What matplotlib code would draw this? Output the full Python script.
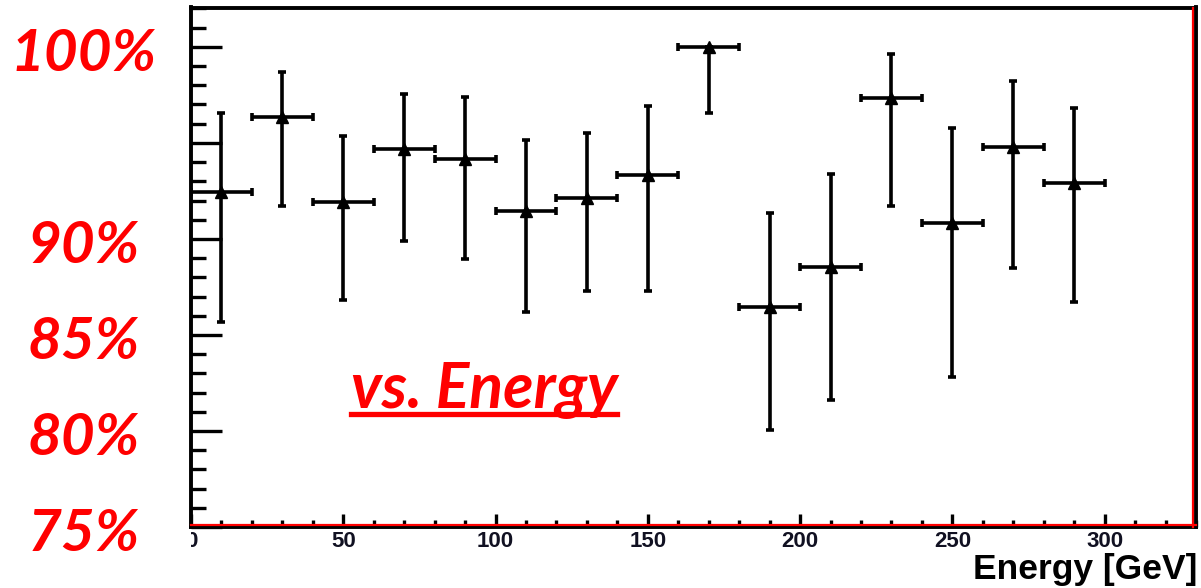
import matplotlib
matplotlib.use("Agg")
import matplotlib.pyplot as plt
from matplotlib.ticker import MultipleLocator, FixedLocator
from matplotlib.transforms import (Bbox, TransformedBbox, IdentityTransform,
                                   blended_transform_factory, offset_copy)
from matplotlib.lines import Line2D

# Efficiency per energy bin (bin centres in GeV, values in %)
energy = [10, 30, 50, 70, 90, 110, 130, 150, 170, 190, 210, 230, 250, 270, 290]
efficiency = [92.46, 96.34, 91.91, 94.69, 94.17, 91.47, 92.14, 93.33, 100.0,
              86.48, 88.56, 97.33, 90.85, 94.81, 92.93]
err_high = [4.09, 2.37, 3.45, 2.86, 3.21, 3.69, 3.40, 3.60, 0.0,
            4.89, 4.83, 2.31, 4.95, 3.42, 3.91]
err_low = [6.77, 4.61, 5.09, 4.81, 5.21, 5.29, 4.85, 6.04, 3.45,
           6.43, 6.95, 5.60, 8.05, 6.34, 6.23]
bin_half_width = [10] * len(energy)

x_ticks = [0, 50, 100, 150, 200, 250, 300]
x_tick_labels = ["0", "50", "100", "150", "200", "250", "300"]
pct_values = [100, 90, 85, 80, 75]
pct_labels = ["100%", "90%", "85%", "80%", "75%"]
x_title = "Energy [GeV]"
caption = "vs. Energy"

W, H, DPI = 1201, 588, 100
fig = plt.figure(figsize=(W / DPI, H / DPI), dpi=DPI)
ax = fig.add_axes([191 / W, 1 - 527 / H, (1196 - 191) / W, (527 - 7.5) / H])

ax.errorbar(energy, efficiency, yerr=[err_low, err_high], xerr=bin_half_width,
            fmt="^", color="black", ecolor="black", markersize=8.5,
            elinewidth=2.6, capsize=2.6, capthick=2.6, linestyle="none")

ax.set_xlim(0, 330)
ax.set_ylim(75, 102.05)

ax.xaxis.set_major_locator(FixedLocator(x_ticks))
ax.set_xticklabels(x_tick_labels)
ax.xaxis.set_minor_locator(MultipleLocator(10))
ax.yaxis.set_major_locator(MultipleLocator(5))
ax.yaxis.set_minor_locator(MultipleLocator(1))
ax.set_yticklabels([])

ax.tick_params(axis="x", which="major", direction="in", length=9.5, width=2.4,
               labelsize=16, pad=3, top=False, labelcolor="#111122")
ax.tick_params(axis="x", which="minor", direction="in", length=5, width=2.4, top=False)
ax.tick_params(axis="y", which="major", direction="in", length=22, width=2.4,
               right=False, labelleft=False)
ax.tick_params(axis="y", which="minor", direction="in", length=11, width=2.4, right=False)
for lbl in ax.get_xticklabels():
    lbl.set_fontfamily("Liberation Sans")
    lbl.set_fontweight("bold")

for sp in ax.spines.values():
    sp.set_linewidth(2.8)
    sp.set_color("black")

# red frame edge running along the inside of the bottom and right spines
ax.plot([0, 1], [0.004, 0.004], transform=ax.transAxes, color="red", lw=1.6,
        clip_on=False, zorder=5)
ax.plot([0.9975, 0.9975], [0, 1], transform=ax.transAxes, color="red", lw=1.6,
        clip_on=False, zorder=5)

# partly hidden zero label at the left edge
fig.canvas.draw()
clip = TransformedBbox(Bbox([[191, 0], [W, H]]), IdentityTransform())
for tick in ax.xaxis.get_major_ticks():
    if tick.label1.get_text() == "0":
        tick.label1.set_clip_box(clip)
        tick.label1.set_clip_on(True)

fig.text(1197 / W, 9.0 / H, x_title, ha="right", va="baseline",
         fontsize=25.5, fontweight="bold", family="Liberation Sans", color="black")

# percentage labels beside the axis
red_font = dict(family=["Lato", "DejaVu Sans"], fontweight="bold", style="italic",
                color="red")
trans = offset_copy(blended_transform_factory(fig.transFigure, ax.transData),
                    fig=fig, y=-24, units="dots")
for v, s in zip(pct_values, pct_labels):
    fig.text(84 / W, v, s, transform=trans, ha="center", va="baseline",
             fontsize=42, **red_font)

# underlined caption
cap = fig.text(484 / W, (588 - 408) / H, caption, ha="center", va="baseline",
               fontsize=45, **red_font)
fig.canvas.draw()
bb = cap.get_window_extent()
fig.add_artist(Line2D([bb.x0 / W, bb.x1 / W], [(588 - 414) / H, (588 - 414) / H],
                      transform=fig.transFigure, color="red", lw=3.8))

fig.savefig("out.png", dpi=DPI)
